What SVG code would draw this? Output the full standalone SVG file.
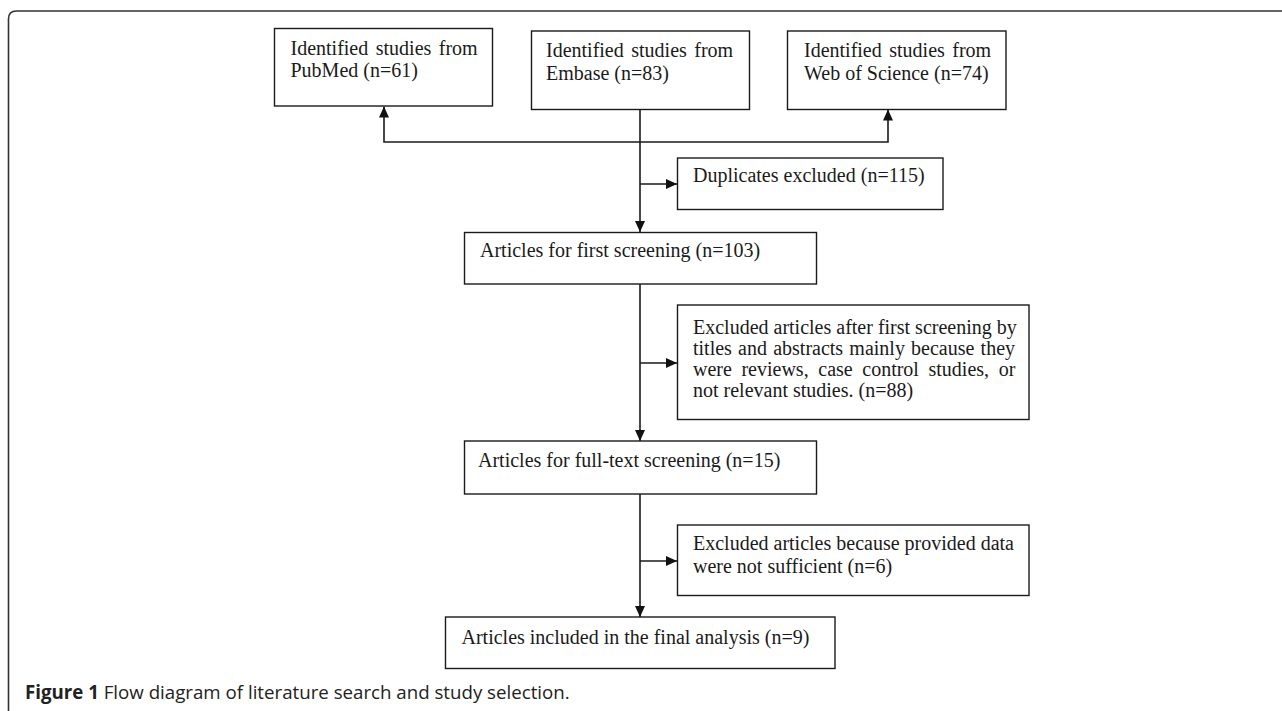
<svg xmlns="http://www.w3.org/2000/svg" width="1282" height="711" viewBox="0 0 1282 711">
  <style>
    .box { fill: #ffffff; stroke: #1a1a1a; stroke-width: 1.4; }
    .t { font-family: "Liberation Serif", "Times New Roman", serif; font-size: 20px; fill: #1a1a1a; }
    .conn { fill: none; stroke: #1a1a1a; stroke-width: 1.6; }
    .cap { font-family: "Open Sans", "Noto Sans", sans-serif; font-size: 18.7px; fill: #222222; }
  </style>
  <defs>
    <marker id="arr" viewBox="0 0 11 10" refX="11" refY="5" markerWidth="11" markerHeight="10" markerUnits="userSpaceOnUse" orient="auto">
      <path d="M0,0 L11,5 L0,10 Z" fill="#111111"/>
    </marker>
  </defs>
  <rect x="0" y="0" width="1282" height="711" fill="#ffffff"/>
  <path d="M 8.5 711 L 8.5 19 Q 8.5 11 16.5 11 L 1282 11" fill="none" stroke="#333333" stroke-width="1.6"/>

  <g id="connectors">
    <line class="conn" x1="640" y1="109.5" x2="640" y2="232" marker-end="url(#arr)"/>
    <polyline class="conn" points="640,142 384,142 384,106.5" marker-end="url(#arr)"/>
    <polyline class="conn" points="640,142 888,142 888,109.5" marker-end="url(#arr)"/>
    <line class="conn" x1="640" y1="184" x2="677" y2="184" marker-end="url(#arr)"/>
    <line class="conn" x1="640" y1="284" x2="640" y2="441" marker-end="url(#arr)"/>
    <line class="conn" x1="640" y1="363" x2="677" y2="363" marker-end="url(#arr)"/>
    <line class="conn" x1="640" y1="494" x2="640" y2="617" marker-end="url(#arr)"/>
    <line class="conn" x1="640" y1="561" x2="677" y2="561" marker-end="url(#arr)"/>
  </g>

  <g id="pubmed">
    <rect class="box" x="274.5" y="28.5" width="218" height="77.5"/>
    <text class="t" x="290.5" y="54.5" word-spacing="2.5">Identified studies from</text>
    <text class="t" x="290.5" y="77">PubMed (n=61)</text>
  </g>
  <g id="embase">
    <rect class="box" x="531.5" y="31" width="218" height="78.5"/>
    <text class="t" x="546" y="57" word-spacing="2.5">Identified studies from</text>
    <text class="t" x="546" y="79.5">Embase (n=83)</text>
  </g>
  <g id="wos">
    <rect class="box" x="787.5" y="31" width="218.5" height="78.5"/>
    <text class="t" x="804" y="57" word-spacing="2.5">Identified studies from</text>
    <text class="t" x="804" y="79.5">Web of Science (n=74)</text>
  </g>
  <g id="duplicates">
    <rect class="box" x="677.5" y="158" width="265.5" height="51.5"/>
    <text class="t" x="693" y="182">Duplicates excluded (n=115)</text>
  </g>
  <g id="first-screening">
    <rect class="box" x="464.5" y="232.5" width="352" height="51.5"/>
    <text class="t" x="480" y="257">Articles for first screening (n=103)</text>
  </g>
  <g id="excluded-first">
    <rect class="box" x="677.5" y="305" width="351.5" height="114.5"/>
    <text class="t" x="693" y="333.5">Excluded articles after first screening by</text>
    <text class="t" x="693" y="354.5" word-spacing="1.2">titles and abstracts mainly because they</text>
    <text class="t" x="693" y="375.5" word-spacing="4.6">were reviews, case control studies, or</text>
    <text class="t" x="693" y="396.5">not relevant studies. (n=88)</text>
  </g>
  <g id="fulltext">
    <rect class="box" x="464.5" y="441" width="352" height="53"/>
    <text class="t" x="478" y="467">Articles for full-text screening (n=15)</text>
  </g>
  <g id="excluded-fulltext">
    <rect class="box" x="677.5" y="525" width="351.5" height="70.5"/>
    <text class="t" x="693" y="550">Excluded articles because provided data</text>
    <text class="t" x="693" y="573">were not sufficient (n=6)</text>
  </g>
  <g id="final">
    <rect class="box" x="445.5" y="617" width="389.5" height="51.5"/>
    <text class="t" x="461.5" y="643.5">Articles included in the final analysis (n=9)</text>
  </g>

  <text class="cap" x="25" y="699"><tspan font-weight="bold">Figure 1</tspan> Flow diagram of literature search and study selection.</text>
</svg>
